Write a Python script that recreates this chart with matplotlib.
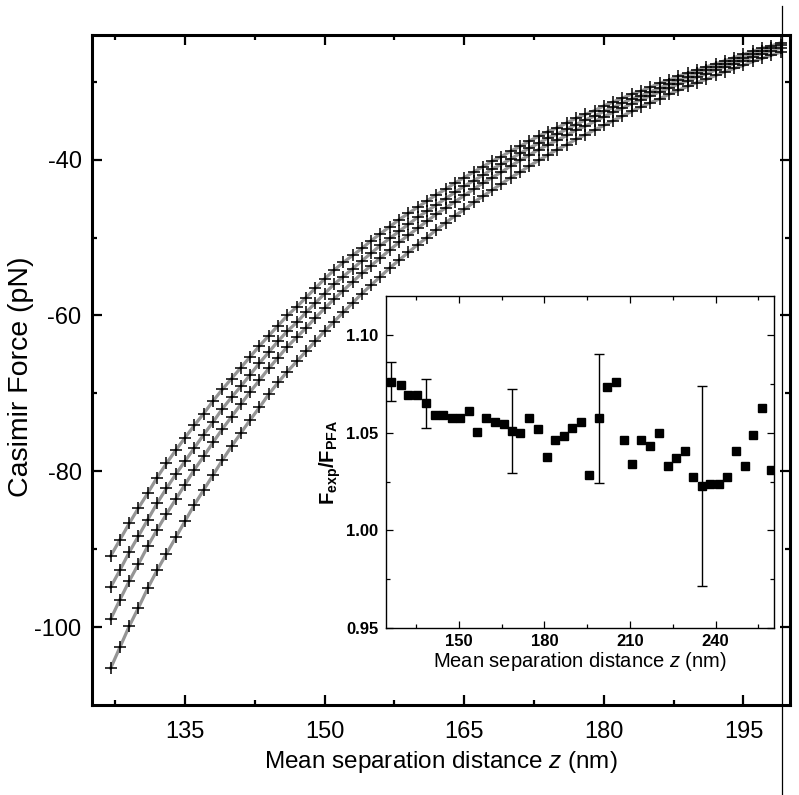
import matplotlib
matplotlib.use('Agg')
import matplotlib.pyplot as plt
from matplotlib.ticker import FixedLocator
from matplotlib.lines import Line2D

plt.rcParams['font.family'] = ['Liberation Sans', 'DejaVu Sans']
plt.rcParams['mathtext.fontset'] = 'custom'
plt.rcParams['mathtext.rm'] = 'Liberation Sans'
plt.rcParams['mathtext.it'] = 'Liberation Sans:italic'
plt.rcParams['mathtext.bf'] = 'Liberation Sans:bold'
plt.rcParams['axes.unicode_minus'] = False

# ---------------- main plot data (separation z in nm, force in pN) ----------------
z_main = list(range(127, 200))

force_1 = [-90.9, -88.8, -86.7, -84.7, -82.8, -80.8, -79.0, -77.3, -75.7, -74.1,
           -72.6, -71.0, -69.5, -68.1, -66.7, -65.3, -63.9, -62.6, -61.3, -60.0,
           -58.9, -57.7, -56.5, -55.3, -54.2, -53.2, -52.3, -51.4, -50.4, -49.5,
           -48.6, -47.7, -46.9, -46.1, -45.3, -44.5, -43.8, -43.0, -42.3, -41.6,
           -40.9, -40.2, -39.6, -38.9, -38.3, -37.6, -37.0, -36.4, -35.9, -35.3,
           -34.7, -34.2, -33.7, -33.1, -32.6, -32.1, -31.6, -31.2, -30.7, -30.2,
           -29.8, -29.3, -28.9, -28.5, -28.1, -27.7, -27.3, -26.9, -26.5, -26.1,
           -25.7, -25.4, -25.0]

force_2 = [-94.9, -92.7, -90.4, -88.3, -86.2, -84.1, -82.2, -80.4, -78.7, -77.0,
           -75.3, -73.7, -72.0, -70.5, -69.1, -67.6, -66.1, -64.7, -63.3, -62.0,
           -60.9, -59.6, -58.4, -57.2, -56.0, -55.0, -54.0, -53.0, -52.0, -51.0,
           -50.1, -49.2, -48.3, -47.4, -46.6, -45.8, -45.0, -44.2, -43.4, -42.7,
           -42.0, -41.2, -40.6, -39.9, -39.2, -38.5, -37.9, -37.2, -36.7, -36.1,
           -35.5, -34.9, -34.4, -33.8, -33.3, -32.7, -32.2, -31.8, -31.3, -30.8,
           -30.3, -29.8, -29.4, -28.9, -28.5, -28.1, -27.7, -27.3, -26.9, -26.5,
           -26.1, -25.7, -25.3]

force_3 = [-99.0, -96.5, -94.1, -91.9, -89.6, -87.5, -85.5, -83.6, -81.7, -79.8,
           -78.1, -76.3, -74.6, -73.0, -71.4, -69.8, -68.3, -66.8, -65.4, -64.0,
           -62.8, -61.6, -60.3, -59.1, -57.9, -56.8, -55.7, -54.6, -53.6, -52.6,
           -51.6, -50.6, -49.7, -48.8, -47.9, -47.0, -46.2, -45.4, -44.6, -43.8,
           -43.0, -42.3, -41.6, -40.8, -40.1, -39.4, -38.7, -38.1, -37.5, -36.9,
           -36.2, -35.7, -35.1, -34.5, -33.9, -33.4, -32.8, -32.3, -31.8, -31.3,
           -30.8, -30.3, -29.9, -29.4, -29.0, -28.5, -28.1, -27.7, -27.3, -26.8,
           -26.4, -26.1, -25.7]

force_4 = [-105.3, -102.6, -99.9, -97.5, -95.0, -92.7, -90.6, -88.5, -86.4, -84.3,
           -82.4, -80.5, -78.6, -76.8, -75.1, -73.4, -71.8, -70.1, -68.6, -67.2,
           -65.9, -64.6, -63.3, -62.0, -60.8, -59.6, -58.4, -57.2, -56.1, -55.0,
           -53.9, -52.9, -51.9, -50.9, -50.0, -49.0, -48.1, -47.2, -46.4, -45.5,
           -44.7, -43.9, -43.1, -42.3, -41.6, -40.8, -40.1, -39.4, -38.7, -38.1,
           -37.4, -36.8, -36.2, -35.6, -35.0, -34.4, -33.8, -33.2, -32.7, -32.2,
           -31.6, -31.1, -30.6, -30.1, -29.7, -29.2, -28.7, -28.3, -27.9, -27.4,
           -27.0, -26.6, -26.2]

main_xticks = [135, 150, 165, 180, 195]
main_xlabels = ['135', '150', '165', '180', '195']
main_yticks = [-40, -60, -80, -100]
main_ylabels = ['-40', '-60', '-80', '-100']

# ---------------- inset data ----------------
z_ratio = [126.4, 129.7, 132.2, 135.3, 138.4, 141.6, 144.6, 147.8, 150.6, 153.5,
           156.5, 159.7, 162.7, 165.9, 168.7, 171.6, 174.6, 177.8, 180.8, 183.9,
           186.9, 189.8, 192.8, 195.7, 199.0, 202.0, 205.1, 208.1, 210.9, 214.0,
           217.1, 220.1, 223.3, 226.3, 229.3, 232.0, 235.2, 238.2, 241.2, 244.2,
           247.3, 250.2, 253.1, 256.3, 259.3]
ratio = [1.0762, 1.0742, 1.0694, 1.0694, 1.0650, 1.0592, 1.0592, 1.0575, 1.0575, 1.0612,
         1.0506, 1.0575, 1.0556, 1.0545, 1.0509, 1.0497, 1.0575, 1.0518, 1.0378, 1.0462,
         1.0482, 1.0526, 1.0556, 1.0282, 1.0573, 1.0734, 1.0762, 1.0460, 1.0342, 1.0460,
         1.0432, 1.0497, 1.0330, 1.0372, 1.0405, 1.0273, 1.0226, 1.0236, 1.0236, 1.0273,
         1.0405, 1.0330, 1.0489, 1.0626, 1.0311]
err_index = [0, 4, 14, 24, 36]
err_size = [0.0099, 0.0125, 0.0213, 0.0331, 0.0513]

inset_xticks = [150, 180, 210, 240]
inset_xlabels = ['150', '180', '210', '240']
inset_yticks = [0.95, 1.00, 1.05, 1.10]
inset_ylabels = ['0.95', '1.00', '1.05', '1.10']

# ---------------- figure ----------------
fig = plt.figure(figsize=(7.99, 7.95), dpi=100)
ax = fig.add_axes([0.1151, 0.1132, 0.8736, 0.8428])

for f in (force_1, force_2, force_3, force_4):
    ax.plot(z_main, f, color='#959595', lw=2.3, zorder=2, solid_capstyle='round')
for f in (force_1, force_2, force_3, force_4):
    ax.plot(z_main, f, linestyle='none', marker='+', color='black',
            ms=8, mew=1.1, zorder=3)

ax.set_xlim(125, 200)
ax.set_ylim(-110, -24)
ax.xaxis.set_major_locator(FixedLocator(main_xticks))
ax.xaxis.set_minor_locator(FixedLocator([127.5, 142.5, 157.5, 172.5, 187.5]))
ax.yaxis.set_major_locator(FixedLocator(main_yticks))
ax.yaxis.set_minor_locator(FixedLocator([-30, -50, -70, -90]))
ax.tick_params(which='both', direction='in', top=True, right=True, width=1.6)
ax.tick_params(which='major', length=7.5)
ax.tick_params(which='minor', length=3.8)
ax.tick_params(axis='x', which='major', pad=11.5)
ax.tick_params(axis='y', which='major', pad=7.5)
ax.set_xticklabels(main_xlabels, fontsize=17)
ax.set_yticklabels(main_ylabels, fontsize=17)
for s in ax.spines.values():
    s.set_linewidth(2.2)
ax.set_xlabel(r'Mean separation distance $z$ (nm)', fontsize=17.5, labelpad=4)
ax.set_ylabel('Casimir Force (pN)', fontsize=20.5)
ax.yaxis.set_label_coords(-0.083, 0.49)

# ---------------- inset ----------------
ax2 = fig.add_axes([0.4831, 0.2101, 0.4856, 0.4176])
ax2.set_zorder(5)
ax2.set_facecolor('white')
ax2.plot(z_ratio, ratio, linestyle='none', marker='s', color='black', ms=5.2, zorder=3)
for i, e in zip(err_index, err_size):
    ax2.errorbar([z_ratio[i]], [ratio[i]], yerr=[e], fmt='none', ecolor='black',
                 elinewidth=1.0, capsize=3.5, capthick=1.0, zorder=2)
ax2.set_xlim(124.5, 260.5)
ax2.set_ylim(0.95, 1.12)
ax2.xaxis.set_major_locator(FixedLocator(inset_xticks))
ax2.xaxis.set_minor_locator(FixedLocator([135, 165, 195, 225, 255]))
ax2.yaxis.set_major_locator(FixedLocator(inset_yticks))
ax2.yaxis.set_minor_locator(FixedLocator([0.975, 1.025, 1.075]))
ax2.tick_params(which='both', direction='in', top=True, right=True, width=0.9)
ax2.tick_params(which='major', length=5)
ax2.tick_params(which='minor', length=3)
ax2.tick_params(axis='x', which='major', pad=4)
ax2.tick_params(axis='y', which='major', pad=5.5)
ax2.set_xticklabels(inset_xlabels, fontweight='bold', fontsize=12)
ax2.set_yticklabels(inset_ylabels, fontweight='bold', fontsize=12)
for s in ax2.spines.values():
    s.set_linewidth(1.0)
ax2.set_xlabel(r'Mean separation distance $z$ (nm)', fontsize=14.5, labelpad=1)
ax2.set_ylabel(r'$\mathbf{F_{exp}/F_{PFA}}$', fontsize=14.5, labelpad=2)

# thin vertical line at right edge of the scan
fig.add_artist(Line2D([0.9787, 0.9787], [0.0, 0.9925], transform=fig.transFigure,
                      color='black', lw=0.9))

fig.savefig('out.png', dpi=100)
